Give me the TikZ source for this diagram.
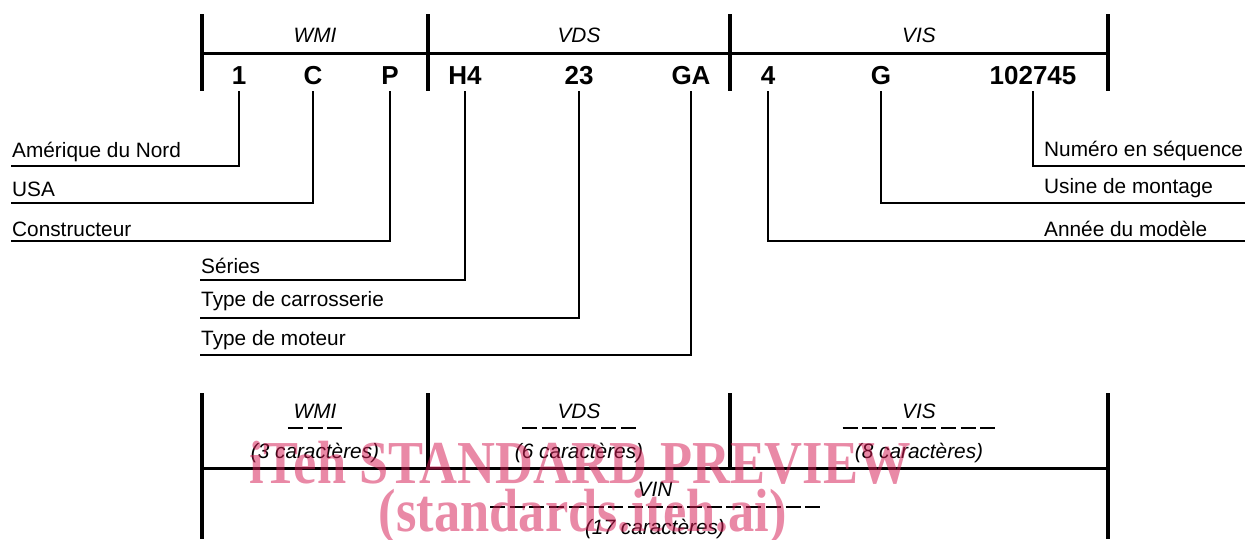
\documentclass[tikz,border=0pt]{standalone}
\usepackage{fontspec}
\setmainfont{Liberation Sans}
\newfontfamily\wmfont{Liberation Serif}
\definecolor{wm}{RGB}{212,28,84}
\begin{document}
\begin{tikzpicture}[x=1pt,y=-1pt,
  bar/.style={line width=3.6pt},
  hbar/.style={line width=3pt},
  leader/.style={line width=1.8pt},
  lab/.style={anchor=base west,inner sep=0pt,font=\fontsize{20.8}{24}\selectfont},
  code/.style={anchor=base,inner sep=0pt,font=\fontsize{26}{30}\selectfont\bfseries},
  sect/.style={anchor=base,inner sep=0pt,font=\fontsize{20.8}{24}\selectfont\itshape},
  dashline/.style={line width=1.4pt,dash pattern=on 15pt off 4.7pt},
  wmark/.style={anchor=base,inner sep=0pt,text=wm,text opacity=0.52,xscale=0.86,
    font=\wmfont\bfseries\fontsize{61}{61}\selectfont},
]
\useasboundingbox (0,0) rectangle (1245,539);

% ---- top ruler
\draw[bar] (202,14) -- (202,91);
\draw[bar] (428,14) -- (428,91);
\draw[bar] (730,14) -- (730,91);
\draw[bar] (1108,14) -- (1108,91);
\draw[hbar] (202,53) -- (1108,53);

\node[sect] (tWMI) at (315,42.5) {WMI};
\node[sect] (tVDS) at (579,42.5) {VDS};
\node[sect] (tVIS) at (919,42.5) {VIS};

\node[code] (c1) at (239,84.3) {1};
\node[code] (c2) at (313,84.3) {C};
\node[code] (c3) at (390,84.3) {P};
\node[code] (c4) at (465,84.3) {H4};
\node[code] (c5) at (579,84.3) {23};
\node[code] (c6) at (691,84.3) {GA};
\node[code] (c7) at (768,84.3) {4};
\node[code] (c8) at (881,84.3) {G};
\node[code] (c9) at (1033,84.3) {102745};

\coordinate (ltop) at (0,91);

% ---- labels
\node[lab] (l1) at (12,157.5) {Amérique du Nord};
\node[lab] (l2) at (12,196.5) {USA};
\node[lab] (l3) at (12,236.5) {Constructeur};
\node[lab] (l4) at (201,273.5) {Séries};
\node[lab] (l5) at (201,306.5) {Type de carrosserie};
\node[lab] (l6) at (201,345.5) {Type de moteur};
\node[lab] (l9) at (1044,156.5) {Numéro en séquence};
\node[lab] (l8) at (1044,193.5) {Usine de montage};
\node[lab] (l7) at (1044,236.5) {Année du modèle};

\coordinate (e1) at (11,166);
\coordinate (e2) at (11,203);
\coordinate (e3) at (11,241);
\coordinate (e4) at (200,280);
\coordinate (e5) at (200,318);
\coordinate (e6) at (200,355);
\coordinate (e9) at (1245,166);
\coordinate (e8) at (1245,203);
\coordinate (e7) at (1245,241);

\foreach \i in {1,...,9}{
  \draw[leader] (c\i |- ltop) |- (e\i);
}

% ---- bottom ruler
\draw[bar] (202,393) -- (202,539);
\draw[bar] (428,393) -- (428,468);
\draw[bar] (730,393) -- (730,468);
\draw[bar] (1108,393) -- (1108,539);
\draw[hbar] (202,468) -- (1108,468);

\node[sect] (bWMI) at (315,418.5) {WMI};
\node[sect] (bVDS) at (579,418.5) {VDS};
\node[sect] (bVIS) at (919,418.5) {VIS};
\node[sect] (bVIN) at (655,496.5) {VIN};
\draw[dashline] (287.8,428) -- (342.2,428);
\draw[dashline] (522.25,428) -- (635.75,428);
\draw[dashline] (842.5,428) -- (995.5,428);
\draw[dashline] (490,507) -- (820.2,507);
\node[sect] (nWMI) at (315,458) {(3 caractères)};
\node[sect] (nVDS) at (579,458) {(6 caractères)};
\node[sect] (nVIS) at (919,458) {(8 caractères)};
\node[sect] (nVIN) at (655,534) {(17 caractères)};

% ---- watermark
\node[wmark] (wm1) at (580,483) {iTeh STANDARD PREVIEW};
\node[wmark] (wm2) at (583,531) {(standards.iteh.ai)};
\end{tikzpicture}
\end{document}
